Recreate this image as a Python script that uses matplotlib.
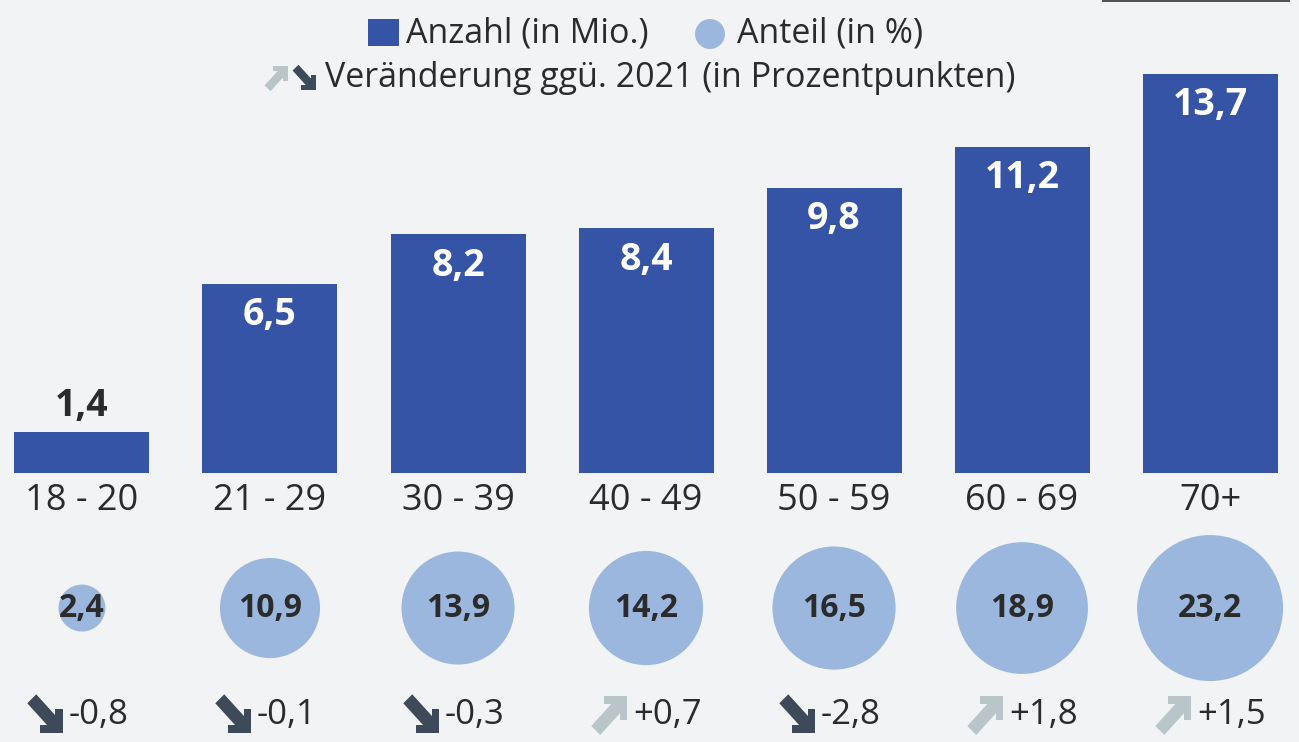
import numpy as np
import matplotlib as mpl
mpl.use('Agg')
import matplotlib.pyplot as plt
import matplotlib.transforms as mtransforms
from matplotlib.patches import Polygon, Rectangle

# data
groups = ['18 - 20', '21 - 29', '30 - 39', '40 - 49', '50 - 59', '60 - 69', '70+']
anzahl = [1.4, 6.5, 8.2, 8.4, 9.8, 11.2, 13.7]
anteil = [2.4, 10.9, 13.9, 14.2, 16.5, 18.9, 23.2]
change = [-0.8, -0.1, -0.3, 0.7, -2.8, 1.8, 1.5]

def de(v, sign=False):
    s = ('%+.1f' if sign else '%.1f') % v
    return s.replace('.', ',')

BG = '#f2f3f5'
BAR = '#3654a6'
CIRC = '#9bb7de'
DOWN = '#3e4a59'
UP = '#b9c5c9'
TXT = '#2b2b2b'

plt.rcParams['font.family'] = ['Open Sans', 'DejaVu Sans']

fig = plt.figure(figsize=(12.99, 7.42), dpi=100, facecolor=BG)
ax = fig.add_axes([0, 0, 1, 1])
ax.set_facecolor(BG)
ax.set_axis_off()
ax.set_xlim(-0.436, 6.473)
ax.set_ylim(-9.24, 16.24)

x = np.arange(len(groups))
ax.bar(x, anzahl, width=0.718, color=BAR, zorder=2)

for i, v in enumerate(anzahl):
    if v < 3:
        ax.annotate(de(v), (i, v), xytext=(0, 5), textcoords='offset points',
                    ha='center', va='bottom', fontsize=27, fontweight='bold', color=TXT)
    else:
        ax.annotate(de(v), (i, v), xytext=(0, -9), textcoords='offset points',
                    ha='center', va='top', fontsize=27, fontweight='bold', color='white')
    ax.annotate(groups[i], (i, 0), xytext=(0, -7), textcoords='offset points',
                ha='center', va='top', fontsize=26, color=TXT)

# share circles, area proportional to value
circ_y = -4.64
sizes = [11050 * v / max(anteil) for v in anteil]
ax.scatter(x, [circ_y] * len(x), s=sizes, color=CIRC, edgecolors='none', zorder=2)
for i, v in enumerate(anteil):
    ax.text(i, circ_y, de(v), ha='center', va='center', fontsize=23,
            fontweight='bold', color=TXT, zorder=3)

# arrow glyph (points units, centred), pointing down-right
def arrow_parts():
    bottom = [(-5, -14), (13, -14), (13, -8), (-5, -8)]
    right = [(7, -14), (13, -14), (13, 4), (7, 4)]
    h = 4.8 / np.sqrt(2)
    s0, s1 = (-11, 12), (9, -10)
    shaft = [(s0[0] - h, s0[1] - h), (s0[0] + h, s0[1] + h),
             (s1[0] + h, s1[1] + h), (s1[0] - h, s1[1] - h)]
    return [bottom, right, shaft]

def draw_arrow(xd, yd, up, color, scale=1.0):
    base = mtransforms.Affine2D().scale(scale / 72.0, (-scale if up else scale) / 72.0)
    tr = base + fig.dpi_scale_trans + mtransforms.ScaledTranslation(xd, yd, ax.transData)
    for pts in arrow_parts():
        ax.add_patch(Polygon(pts, closed=True, facecolor=color, edgecolor='none',
                             transform=tr, clip_on=False))

chg_y = -8.3
for i, v in enumerate(change):
    up = v > 0
    draw_arrow(i - 0.19, chg_y, up, UP if up else DOWN, scale=0.95)
    ax.text(i - 0.07, chg_y, de(v, sign=up), ha='left', va='center',
            fontsize=25, color=TXT)

# legend
fig.patches.append(Rectangle((368, 742 - 46), 31, 27, transform=None,
                             facecolor=BAR, edgecolor='none'))
fig.text(406 / 1299, 1 - 34 / 742, 'Anzahl (in Mio.)', ha='left', va='center',
         fontsize=24.5, color=TXT)
fig.add_artist(mpl.patches.Circle((710, 742 - 34), 15, transform=None,
                                  facecolor=CIRC, edgecolor='none'))
fig.text(737 / 1299, 1 - 34 / 742, 'Anteil (in %)', ha='left', va='center',
         fontsize=24.5, color=TXT)
fig.text(325 / 1299, 1 - 78 / 742, 'Veränderung ggü. 2021 (in Prozentpunkten)',
         ha='left', va='center', fontsize=24.5, color=TXT)
lg = fig.transFigure
for xp, up, col in [(277, True, UP), (305, False, DOWN)]:
    tr = (mtransforms.Affine2D().scale(0.62 / 72.0, (-0.62 if up else 0.62) / 72.0)
          + fig.dpi_scale_trans
          + mtransforms.ScaledTranslation(xp / 1299, 1 - 78 / 742, lg))
    for pts in arrow_parts():
        fig.patches.append(Polygon(pts, closed=True, facecolor=col,
                                   edgecolor='none', transform=tr))

# cropped button edge top right
fig.patches.append(Rectangle((1102, 740), 188, 2, transform=None,
                             facecolor='#555555', edgecolor='none'))

fig.savefig('out.png', dpi=100, facecolor=BG)
